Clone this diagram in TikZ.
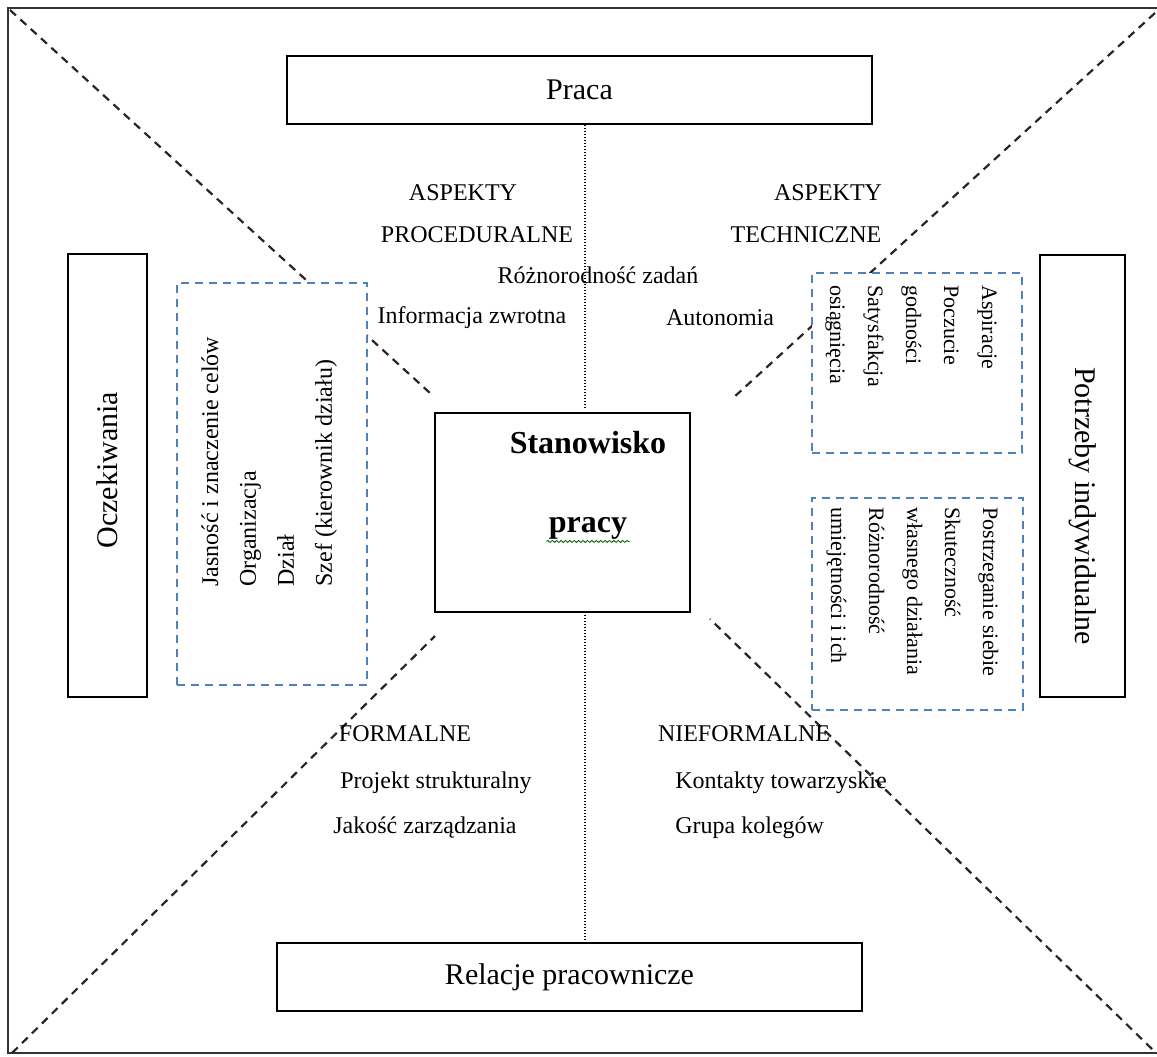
\documentclass[tikz,border=0pt]{standalone}
\usepackage{fontspec}
\setmainfont{Liberation Serif}
\usetikzlibrary{decorations.pathmorphing}
\definecolor{ramkaniebieska}{RGB}{79,129,189}
\tikzset{
  pole/.style={draw, line width=0.8pt, inner sep=0pt, font=\fontsize{15}{18}\selectfont},
  ramka/.style={draw=ramkaniebieska, dash pattern=on 4pt off 3pt, line width=0.6pt, fill=white, inner sep=0pt},
  przekatna/.style={draw=black!85, dash pattern=on 4pt off 3pt, line width=1.1pt},
  kropki/.style={line width=0.6pt, dash pattern=on 0.6pt off 0.9pt},
  napis/.style={font=\fontsize{12}{14.5}\selectfont, inner sep=1pt},
  lista/.style={anchor=base west, inner sep=0pt, font=\fontsize{11}{13.5}\selectfont},
}
\begin{document}
\begin{tikzpicture}[x=0.5pt,y=-0.5pt]
\useasboundingbox (0,0) rectangle (1157,1056);
% ramka zewnetrzna
\draw[line width=0.9pt, black!80] (1157,8) -- (8,8) -- (8,1053) -- (1157,1053);

% przekatne
\coordinate (lgRog) at (10,10);
\coordinate (lgKoniec) at (430,393);
\coordinate (pgRog) at (1155,13);
\coordinate (pgKoniec) at (733,398);
\coordinate (ldRog) at (12,1053);
\coordinate (ldKoniec) at (435,636);
\coordinate (pdRog) at (1152,1049);
\coordinate (pdKoniec) at (710,619);
\draw[przekatna] (lgRog) -- (lgKoniec);
\draw[przekatna] (pgRog) -- (pgKoniec);
\draw[przekatna] (ldRog) -- (ldKoniec);
\draw[przekatna] (pdRog) -- (pdKoniec);

% pola glowne
\node (praca) [pole, minimum width=292.5pt, minimum height=34pt] at (579.5,90) {Praca};
\node (relacje) [pole, minimum width=292.5pt, minimum height=34pt] at (569.5,977) {Relacje pracownicze};
\node (oczekiwania) [pole, minimum width=39.5pt, minimum height=221.5pt] at (107.5,475.5) {};
\node (oczekiwaniaTxt) [rotate=90, font=\fontsize{15}{18}\selectfont] at (107.5,470) {Oczekiwania};
\node (potrzeby) [pole, minimum width=42.5pt, minimum height=221pt] at (1082.5,476) {};
\node (potrzebyTxt) [rotate=-90, font=\fontsize{15}{18}\selectfont] at (1082.5,506) {Potrzeby indywidualne};
\node (stanowisko) [draw, line width=1pt, minimum width=127.5pt, minimum height=99.5pt] at (562.5,512.5) {};
\node (stanowiskoA) [font=\fontsize{16}{19}\selectfont\bfseries] at (588,443) {Stanowisko};
\node (stanowiskoB) [font=\fontsize{16}{19}\selectfont\bfseries, inner sep=1pt] at (588,528) {pracy};
\draw[decorate, decoration={snake, amplitude=0.5pt, segment length=2.2pt}, draw=green!35!black, line width=0.4pt]
  (stanowiskoB.south west) -- (stanowiskoB.south east);

% linie kropkowane
\coordinate (gorneKropki) at (585,407);
\coordinate (dolneKropki) at (585,615);
\draw[kropki] (praca.south -| gorneKropki) -- (gorneKropki);
\draw[kropki] (dolneKropki) -- (dolneKropki |- relacje.north);

% ramki przerywane
\node (celeBox) [ramka, minimum width=95pt, minimum height=201pt] at (272,484) {};
\node (aspiracjeBox) [ramka, minimum width=105pt, minimum height=90pt] at (917,363) {};
\node (skutecznoscBox) [ramka, minimum width=105.5pt, minimum height=106pt] at (917.5,604) {};

\node (celeTxt) [lista, rotate=90, font=\fontsize{12}{14.5}\selectfont] at (218,587) {%
\renewcommand{\arraystretch}{1.31}%
\begin{tabular}[t]{@{}l@{}}
Jasność i znaczenie celów \\
Organizacja \\
Dział \\
Szef (kierownik działu) \\
\end{tabular}};
\node (aspiracjeTxt) [lista, rotate=-90] at (982,285) {%
\renewcommand{\arraystretch}{1.407}%
\begin{tabular}[t]{@{}l@{}}
Aspiracje \\
Poczucie \\
godności \\
Satysfakcja \\
osiągnięcia \\
\end{tabular}};
\node (skutecznoscTxt) [lista, rotate=-90] at (983,507) {%
\renewcommand{\arraystretch}{1.407}%
\begin{tabular}[t]{@{}l@{}}
Postrzeganie siebie \\
Skuteczność \\
własnego działania \\
Różnorodność \\
umiejętności i ich \\
\end{tabular}};

% napisy
\node (aspProcA) [napis] at (463,193) {ASPEKTY};
\node (aspProcB) [napis] at (477,235) {PROCEDURALNE};
\node (aspTechA) [napis] at (828,193) {ASPEKTY};
\node (aspTechB) [napis] at (806,235) {TECHNICZNE};
\node (roznorodnosc) [napis] at (598,275) {Różnorodność zadań};
\node (informacja) [napis] at (472,318) {Informacja zwrotna};
\node (autonomia) [napis] at (720,318) {Autonomia};
\node (formalne) [napis] at (405,734) {FORMALNE};
\node (nieformalne) [napis] at (744,734) {NIEFORMALNE};
\node (projekt) [napis, anchor=west] at (338,783) {Projekt strukturalny};
\node (jakosc) [napis, anchor=west] at (331,828) {Jakość zarządzania};
\node (kontakty) [napis, anchor=west] at (673,783) {Kontakty towarzyskie};
\node (grupa) [napis, anchor=west] at (673,828) {Grupa kolegów};
\end{tikzpicture}
\end{document}
